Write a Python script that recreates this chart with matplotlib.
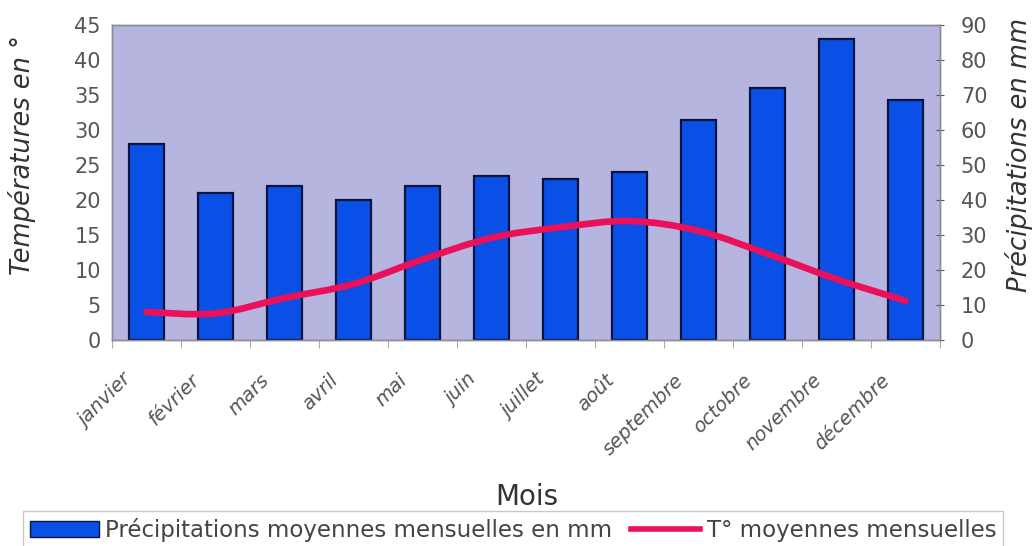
import numpy as np
import matplotlib.pyplot as plt
from matplotlib.path import Path
from matplotlib.patches import PathPatch, Patch
from matplotlib.lines import Line2D
from matplotlib.transforms import ScaledTranslation

mois = ['janvier', 'février', 'mars', 'avril', 'mai', 'juin', 'juillet',
        'août', 'septembre', 'octobre', 'novembre', 'décembre']
precip = [56, 42, 44, 40, 44, 47, 46, 48, 63, 72, 86, 68.5]
temp = [4, 3.8, 6, 8, 11.5, 14.6, 16.1, 17.0, 15.6, 12.3, 8.7, 5.6]

plt.rcParams['font.family'] = ['DejaVu Sans']

bg = '#b5b5e0'
bleu = '#0a4fe6'
rouge = '#ea1059'
gris = '#555555'

fig = plt.figure(figsize=(10.35, 5.46), dpi=100)
ax = fig.add_axes([112/1035, 1-340/546, 828/1035, 315/546])
ax2 = ax.twinx()

x = np.arange(len(mois))

# barres sur l'axe de droite
ax2.bar(x, precip, width=0.5, color=bleu, edgecolor='#0a1440', linewidth=1.6, zorder=2)
ax2.set_ylim(0, 90)
ax2.set_yticks(range(0, 91, 10))

# courbe lissée (bezier facon excel)
pts = np.column_stack([x, temp]).astype(float)
verts = [pts[0]]
codes = [Path.MOVETO]
n = len(pts)
for i in range(n-1):
    p0 = pts[i-1] if i > 0 else pts[i]
    p1 = pts[i]
    p2 = pts[i+1]
    p3 = pts[i+2] if i+2 < n else pts[i+1]
    c1 = p1 + (p2 - p0)/6
    c2 = p2 - (p3 - p1)/6
    verts += [c1, c2, p2]
    codes += [Path.CURVE4]*3
# temperatures sur l'axe gauche (0-45) -> dessin sur ax2 (0-90)
verts2 = [(v[0], v[1]*2) for v in verts]
ax2.add_patch(PathPatch(Path(verts2, codes), facecolor='none', edgecolor=rouge,
                        linewidth=4.8, capstyle='round', zorder=3))

ax.set_ylim(0, 45)
ax.set_yticks(range(0, 46, 5))
ax.set_xlim(-0.5, 11.5)
ax.set_facecolor(bg)

ax.set_xticks(x)
ax.set_xticklabels(mois, rotation=45, ha='right', rotation_mode='anchor',
                   style='italic', fontsize=14, color=gris)
ax.tick_params(axis='x', length=0, pad=22)
for lab in ax.get_xticklabels():
    lab.set_transform(lab.get_transform() + ScaledTranslation(-0.25, 0, fig.dpi_scale_trans))
ax.set_xticks(np.arange(-0.5, 12, 1), minor=True)
ax.tick_params(axis='x', which='minor', length=6, color='#999999')

for a in (ax, ax2):
    for s in a.spines.values():
        s.set_color('#8c8c99')
        s.set_linewidth(1)
ax.tick_params(axis='y', labelsize=15, colors=gris, length=0, pad=8)
ax2.tick_params(axis='y', labelsize=15, colors=gris, length=6, pad=12, direction='inout')

ax.set_ylabel('Températures en °', fontsize=18.5, style='italic', color='#333333')
ax.yaxis.set_label_coords(-0.092, 0.587)
ax2.set_ylabel('Précipitations en mm', fontsize=18.5, style='italic', color='#333333')
ax2.yaxis.set_label_coords(1.079, 0.587)
fig.text(527/1035, 1-497/546, 'Mois', fontsize=20, color='#333333', ha='center', va='center')

handles = [Patch(facecolor=bleu, edgecolor='#0a1440'),
           Line2D([], [], color=rouge, linewidth=4)]
labels = ['Précipitations moyennes mensuelles en mm', 'T° moyennes mensuelles']
leg = fig.legend(handles, labels, loc='center', bbox_to_anchor=(513/1035, 1-530/546),
                 ncol=2, frameon=True, fancybox=False, edgecolor='#bbbbbb',
                 fontsize=16.5, handlelength=3.0, handleheight=0.7, handletextpad=0.3,
                 columnspacing=0.8, borderpad=0.3, labelcolor='#444444')
leg.get_frame().set_linewidth(1)

fig.savefig('out.png', dpi=100)
